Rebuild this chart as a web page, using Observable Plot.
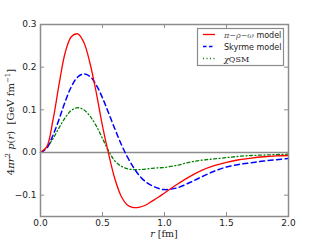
<!DOCTYPE html>
<html>
<head>
<meta charset="utf-8">
<script src="https://cdn.jsdelivr.net/npm/d3@7"></script>
<script src="https://cdn.jsdelivr.net/npm/@observablehq/plot@0.6"></script>
<style>
  html, body { margin: 0; padding: 0; background: #fff; }
  #chart svg { display: block; }
</style>
</head>
<body>
<div id="chart"></div>
<script>
// radius r [fm]
const rValues = [0, 0.05, 0.1, 0.15, 0.2, 0.25, 0.3, 0.35, 0.4, 0.45, 0.5, 0.55, 0.6, 0.65, 0.7, 0.75, 0.8, 0.85, 0.9, 0.95, 1.0,
                 1.1, 1.2, 1.3, 1.4, 1.5, 1.6, 1.7, 1.8, 1.9, 2.0];
// 4 pi r^2 p(r) [GeV fm^-1]
const piRhoOmega = [0, 0.013, 0.075, 0.16, 0.235, 0.272, 0.278, 0.258, 0.208, 0.14, 0.062, -0.004, -0.062, -0.102, -0.123, -0.129, -0.128, -0.123, -0.114, -0.105, -0.095,
                    -0.075, -0.057, -0.042, -0.031, -0.023, -0.017, -0.013, -0.010, -0.008, -0.007];
const skyrme = [0, 0.01, 0.04, 0.078, 0.12, 0.155, 0.177, 0.184, 0.178, 0.158, 0.128, 0.092, 0.055, 0.02, -0.01, -0.035, -0.055, -0.069, -0.078, -0.084, -0.087,
                -0.083, -0.071, -0.057, -0.044, -0.034, -0.028, -0.024, -0.020, -0.017, -0.014];
const chiQSM = [0, 0.012, 0.032, 0.058, 0.082, 0.099, 0.105, 0.1, 0.085, 0.062, 0.033, 0.003, -0.02, -0.032, -0.038, -0.04, -0.04, -0.039, -0.037, -0.036, -0.035,
                -0.03, -0.023, -0.018, -0.015, -0.012, -0.009, -0.007, -0.006, -0.005, -0.004];

const xTicks = [0, 0.5, 1.0, 1.5, 2.0];
const yTicks = [-0.1, 0.0, 0.1, 0.2, 0.3];
const seriesNames = ["π−ρ−ω model", "Skyrme model", "χQSM"];

const W = 320, H = 240, mL = 40, mR = 32, mT = 24, mB = 24;
const pw = W - mL - mR, ph = H - mT - mB;
const gray = "#8c8c8c";

const mk = (vals) => rValues.map((r, i) => ({r, v: vals[i]}));
const fmt = d3.format(".1f");

const chart = Plot.plot({
  width: W, height: H,
  marginLeft: mL, marginRight: mR, marginTop: mT, marginBottom: mB,
  style: {fontFamily: "DejaVu Sans", fontSize: "9px", color: "#222", background: "#fff"},
  x: {domain: [0, 2]},
  y: {domain: [-0.15, 0.3]},
  marks: [
    Plot.ruleY([0], {stroke: gray, strokeWidth: 1.5}),
    Plot.line(mk(chiQSM), {x: "r", y: "v", stroke: "#008000", strokeWidth: 1.3, strokeDasharray: "1,2.5,3,2.5", curve: "catmull-rom"}),
    Plot.line(mk(skyrme), {x: "r", y: "v", stroke: "#0000ff", strokeWidth: 1.5, strokeDasharray: "5,3.5", curve: "catmull-rom"}),
    Plot.line(mk(piRhoOmega), {x: "r", y: "v", stroke: "#ff0000", strokeWidth: 1.3, curve: "catmull-rom"}),
    // inward ticks
    Plot.ruleX(xTicks, {x: d => d, stroke: gray, insetTop: ph - 4}),
    Plot.ruleX(xTicks, {x: d => d, stroke: gray, insetBottom: ph - 4}),
    Plot.ruleY(yTicks, {y: d => d, stroke: gray, insetRight: pw - 4}),
    Plot.ruleY(yTicks, {y: d => d, stroke: gray, insetLeft: pw - 4}),
    Plot.frame({stroke: gray, strokeWidth: 1.5}),
    Plot.axisX(xTicks, {tickSize: 0, tickPadding: 3, tickFormat: fmt, label: null, fill: "#222"}),
    Plot.axisY(yTicks, {tickSize: 0, tickPadding: 4, tickFormat: fmt, label: null, fill: "#222"})
  ]
});

document.getElementById("chart").appendChild(chart);

const svg = d3.select(chart);
const serif = "DejaVu Serif";

// x label
const xl = svg.append("text")
  .attr("x", mL + pw / 2).attr("y", 237)
  .style("text-anchor", "middle")
  .style("font-family", serif).style("font-size", "9.5px").style("fill", "#222");
xl.append("tspan").style("font-style", "italic").text("r");
xl.append("tspan").text(" [fm]");

// y label
const yl = svg.append("text")
  .attr("transform", `translate(14,${mT + ph / 2 + 2}) rotate(-90)`)
  .style("text-anchor", "middle")
  .style("font-family", serif).style("font-size", "10px").style("fill", "#222");
yl.append("tspan").text("4");
yl.append("tspan").style("font-style", "italic").text("πr");
yl.append("tspan").style("font-size", "7px").attr("dy", -4).text("2");
yl.append("tspan").attr("dy", 4).text(" ");
yl.append("tspan").style("font-style", "italic").text("p");
yl.append("tspan").text("(");
yl.append("tspan").style("font-style", "italic").text("r");
yl.append("tspan").text(")  [GeV fm");
yl.append("tspan").style("font-size", "7px").attr("dy", -4).text("−1");
yl.append("tspan").attr("dy", 4).text("]");

// legend
const lg = svg.append("g");
lg.append("rect").attr("x", 197.5).attr("y", 28.5).attr("width", 86).attr("height", 37)
  .style("fill", "#ffffff").style("stroke", gray).style("stroke-width", "1.2px");
const legendStyles = [
  {stroke: "#ff0000", dash: "none", w: 1.3},
  {stroke: "#0000ff", dash: "3.5,2.5", w: 1.5},
  {stroke: "#008000", dash: "1,2.5", w: 1.3}
];
seriesNames.forEach((name, i) => {
  const y = 34.5 + i * 12;
  const s = legendStyles[i];
  lg.append("line").attr("x1", 203).attr("x2", 215).attr("y1", y).attr("y2", y)
    .style("stroke", s.stroke).style("stroke-width", s.w + "px").style("stroke-dasharray", s.dash);
  const t = lg.append("text").attr("x", 224).attr("y", y + 3)
    .style("text-anchor", "start")
    .style("font-size", "8px").style("fill", "#222").style("font-family", "DejaVu Sans");
  if (i === 0) {
    t.append("tspan").style("font-family", serif).style("font-style", "italic").style("fill", "#555").text("π−ρ−ω");
    t.append("tspan").text(" model");
  } else if (i === 1) {
    t.text(name);
  } else {
    t.append("tspan").style("font-family", serif).style("font-style", "italic").text("χ");
    t.append("tspan").style("font-family", serif).text("QSM");
  }
});
</script>
</body>
</html>
